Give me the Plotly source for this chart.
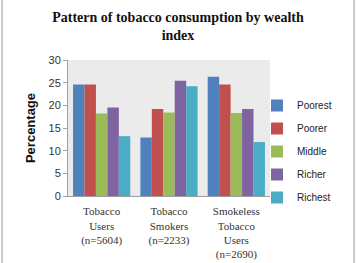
import plotly.graph_objects as go

categories = ["Tobacco<br>Users<br>(n=5604)", "Tobacco<br>Smokers<br>(n=2233)", "Smokeless<br>Tobacco<br>Users<br>(n=2690)"]
series_names = ["Poorest", "Poorer", "Middle", "Richer", "Richest"]
poorest = [24.6, 12.9, 26.3]
poorer = [24.6, 19.2, 24.6]
middle = [18.2, 18.4, 18.3]
richer = [19.5, 25.4, 19.2]
richest = [13.2, 24.2, 11.9]
colors = ["#4F81BD", "#C0504D", "#9BBB59", "#8064A2", "#4BACC6"]
y_ticks = [0, 5, 10, 15, 20, 25, 30]

fig = go.Figure()
for name, vals, c in zip(series_names, [poorest, poorer, middle, richer, richest], colors):
    fig.add_trace(go.Bar(name=name, x=categories, y=vals, legendgroup=name,
                         marker=dict(color=c, line=dict(width=0))))

PW, PH = 202, 136
fig.update_layout(
    width=356, height=263,
    margin=dict(l=68, r=86, t=60, b=67, autoexpand=False),
    paper_bgcolor="white",
    plot_bgcolor="#EBEBEB",
    barmode="group", bargap=0.15, bargroupgap=0,
    title=dict(text="<b>Pattern of tobacco consumption by wealth<br>index</b>",
               font=dict(family="Liberation Serif", size=14, color="#111"),
               x=0.5, xanchor="center", y=1 - 22/263, yanchor="top"),
    legend=dict(x=(257-68)/PW, xanchor="left", y=1 - (91-60)/PH, yanchor="top",
                font=dict(family="Liberation Sans", size=10, color="#222"),
                itemwidth=30, tracegroupgap=4, itemsizing="constant",
                bgcolor="rgba(0,0,0,0)"),
    showlegend=True,
)
fig.update_xaxes(showline=True, linecolor="#A0A0A0", linewidth=1, ticks="",
                 tickfont=dict(family="Liberation Serif", size=11, color="#333"),
                 ticklabelstandoff=5, showgrid=False)
fig.update_yaxes(range=[0, 30], tickvals=y_ticks, showline=True, linecolor="#A0A0A0", linewidth=1,
                 ticks="outside", ticklen=4, tickcolor="#A0A0A0", showgrid=False, zeroline=False,
                 tickfont=dict(family="Liberation Sans", size=11, color="#333"),
                 title=dict(text="<b>Percentage</b>", font=dict(family="Liberation Sans", size=13, color="#111"), standoff=9))

fig.add_shape(type="line", xref="paper", yref="paper", x0=(2-68)/PW, x1=(2-68)/PW, y0=-67/PH, y1=1+60/PH,
              line=dict(color="#9A9A9A", width=1))
fig.add_shape(type="line", xref="paper", yref="paper", x0=(354-68)/PW, x1=(354-68)/PW, y0=-67/PH, y1=1+60/PH,
              line=dict(color="#9A9A9A", width=1))

fig.write_html("out.html")
